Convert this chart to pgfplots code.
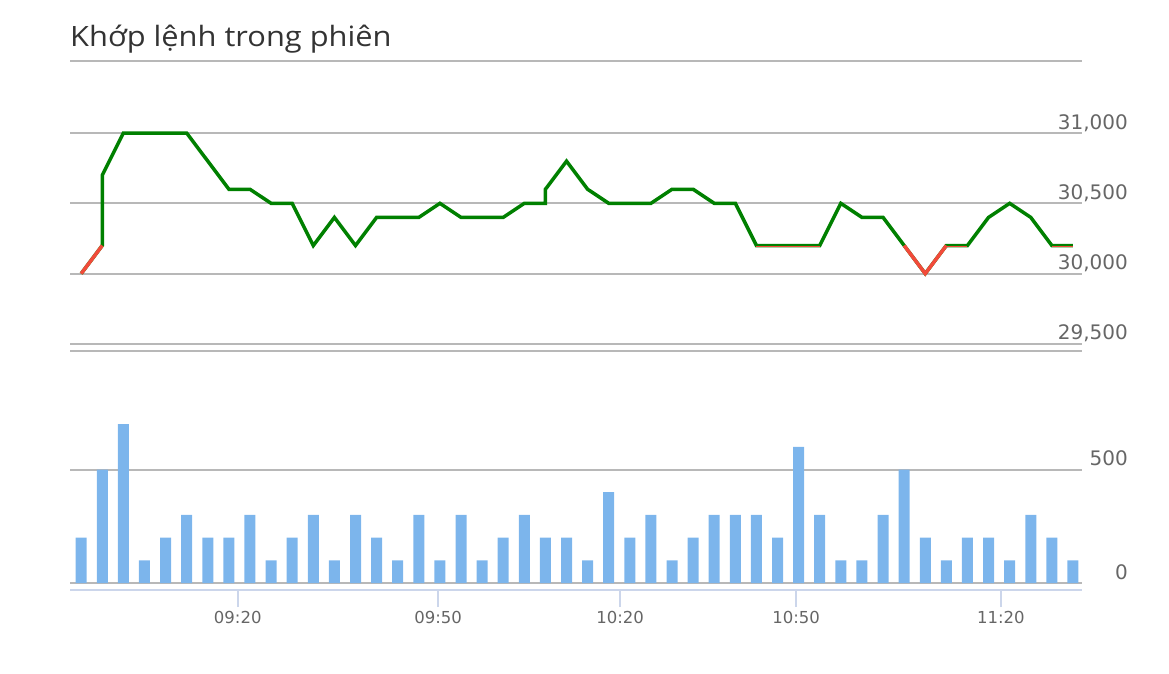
\documentclass[border=0pt]{standalone}
\usepackage{fontspec}
\setmainfont{DejaVu Sans}
\newfontfamily\titlefont{Open Sans}
\usepackage{pgfplots}
\pgfplotsset{compat=1.18}
\definecolor{gridc}{HTML}{B8B8B8}
\definecolor{upg}{HTML}{008000}
\definecolor{dnr}{HTML}{F24A3A}
\definecolor{barc}{HTML}{7CB5EC}
\definecolor{axc}{HTML}{CCD6EB}
\definecolor{lab}{HTML}{666666}
\definecolor{ttl}{HTML}{333333}
\pgfplotsset{
  common/.style={
    scale only axis, width=1012pt, anchor=south west,
    xmin=-0.53, xmax=47.43,
    axis line style={draw=none},
    xtick=\empty,
    ymajorgrids, grid style={gridc, line width=2pt},
    major tick length=0pt,
    scaled y ticks=false,
    yticklabel pos=right,
    yticklabel style={anchor=base east, inner sep=0pt, xshift=46pt, yshift=4pt, text=lab, font=\fontsize{20}{20}\selectfont},
    /pgf/number format/1000 sep={,},
    /pgf/number format/assume math mode=true,
  }
}
\begin{document}
\begin{tikzpicture}
\useasboundingbox (0pt,0pt) rectangle (1169pt,-673pt);
\node[anchor=base west, inner sep=0pt, text=ttl, xscale=1.1, font=\titlefont\fontsize{28}{32}\selectfont] at (70pt,-46.5pt) {Khớp lệnh trong phiên};
\draw[gridc, line width=2pt] (70pt,-61pt) -- (1082pt,-61pt);
\draw[gridc, line width=2pt] (70pt,-351pt) -- (1082pt,-351pt);

% price pane
\begin{axis}[common, at={(70pt,-351pt)}, height=290pt,
  ymin=29450, ymax=31512, ytick={29500,30000,30500,31000}]
\addplot[upg, line width=3.5pt] coordinates {
(0,30000)(1,30200)(1,30700)(2,31000)(3,31000)(4,31000)(5,31000)(6,30800)(7,30600)(8,30600)(9,30500)(10,30500)(11,30200)(12,30400)(13,30200)(14,30400)(15,30400)(16,30400)(17,30500)(18,30400)(19,30400)(20,30400)(21,30500)(22,30500)(22,30600)(23,30800)(24,30600)(25,30500)(26,30500)(27,30500)(28,30600)(29,30600)(30,30500)(31,30500)(32,30200)(33,30200)(34,30200)(35,30200)(36,30500)(37,30400)(38,30400)(39,30200)(40,30000)(41,30200)(42,30200)(43,30400)(44,30500)(45,30400)(46,30200)(47,30200)};
\addplot[dnr, line width=3.5pt] coordinates {(0,30000)(1,30200)};
\addplot[dnr, line width=3.5pt] coordinates {(39,30200)(40,30000)(41,30200)};
\addplot[dnr, line width=1pt, yshift=-1.2pt] coordinates {(32,30200)(35,30200)};
\addplot[dnr, line width=1pt, yshift=-1.2pt] coordinates {(41,30200)(42,30200)};
\addplot[dnr, line width=1pt, yshift=-1.2pt] coordinates {(46,30200)(47,30200)};
\end{axis}

% volume pane
\begin{axis}[common, at={(70pt,-583pt)}, height=227pt,
  ymin=0, ymax=1000, ytick={0,500}]
\addplot[ybar, bar width=11pt, fill=barc, draw=none] coordinates {
(0,200)(1,500)(2,700)(3,100)(4,200)(5,300)(6,200)(7,200)(8,300)(9,100)(10,200)(11,300)(12,100)(13,300)(14,200)(15,100)(16,300)(17,100)(18,300)(19,100)(20,200)(21,300)(22,200)(23,200)(24,100)(25,400)(26,200)(27,300)(28,100)(29,200)(30,300)(31,300)(32,300)(33,200)(34,600)(35,300)(36,100)(37,100)(38,300)(39,500)(40,200)(41,100)(42,200)(43,200)(44,100)(45,300)(46,200)(47,100)};
\end{axis}

% time axis
\begin{axis}[scale only axis, width=1012pt, height=10pt, at={(70pt,-590pt)}, anchor=south west,
  xmin=-0.53, xmax=47.43, ymin=0, ymax=1,
  axis x line*=bottom, axis y line=none,
  x axis line style={axc, line width=1.5pt, -},
  xtick={7.42,16.92,25.54,33.88,43.58},
  xticklabels={09:20,09:50,10:20,10:50,11:20},
  tick align=outside, major tick length=17pt,
  xtick style={axc, line width=1.5pt},
  xticklabel style={text=lab, font=\fontsize{16.5}{16.5}\selectfont, inner sep=0pt, yshift=-4pt}]
\end{axis}
\end{tikzpicture}
\end{document}
